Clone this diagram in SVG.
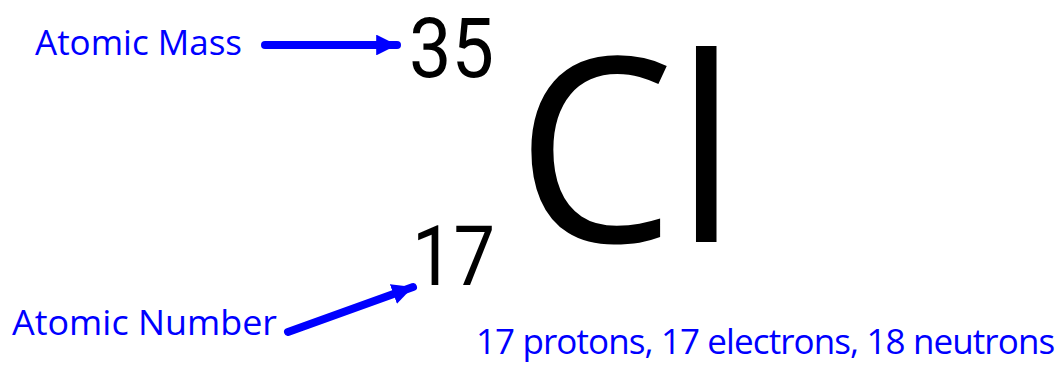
<svg xmlns="http://www.w3.org/2000/svg" width="1063" height="365" viewBox="0 0 1063 365">
<style>
.lbl{font-family:"Open Sans","Noto Sans",sans-serif;fill:#0000ff;font-size:35px}
.sym{font-family:"Open Sans","Noto Sans",sans-serif;fill:#000}
.num{font-family:Roboto,"Open Sans",sans-serif;fill:#000;font-size:83px}
.con{stroke:#0000ff;stroke-width:8;stroke-linecap:round;fill:none}
</style>
<defs>
<marker id="ah" viewBox="0 0 10 10" refX="10" refY="5" markerWidth="2.6" markerHeight="2.6" markerUnits="strokeWidth" orient="auto">
<path d="M0,0 L10,5 L0,10 Z" fill="#0000ff"/>
</marker>
</defs>
<rect width="1063" height="365" fill="#fff"/>
<g id="symbol">
<text class="sym" x="516" y="242" font-size="258" textLength="222" lengthAdjust="spacingAndGlyphs">Cl</text>
</g>
<g id="mass">
<text class="num" x="409" y="77" textLength="85" lengthAdjust="spacingAndGlyphs">35</text>
</g>
<g id="number">
<text class="num" x="412" y="285" textLength="83" lengthAdjust="spacingAndGlyphs">17</text>
</g>
<g id="label-mass">
<text class="lbl" x="35" y="55" textLength="207" lengthAdjust="spacingAndGlyphs">Atomic Mass</text>
</g>
<g id="label-number">
<text class="lbl" x="12" y="335" textLength="265" lengthAdjust="spacingAndGlyphs">Atomic Number</text>
</g>
<g id="summary">
<text class="lbl" x="476" y="354" font-size="34" letter-spacing="-0.9">17 protons, 17 electrons, 18 neutrons</text>
</g>
<g id="connectors">
<path class="con" d="M265,45 L397,45" marker-end="url(#ah)"/>
<path class="con" d="M288,332 L413,287" marker-end="url(#ah)"/>
</g>
</svg>
